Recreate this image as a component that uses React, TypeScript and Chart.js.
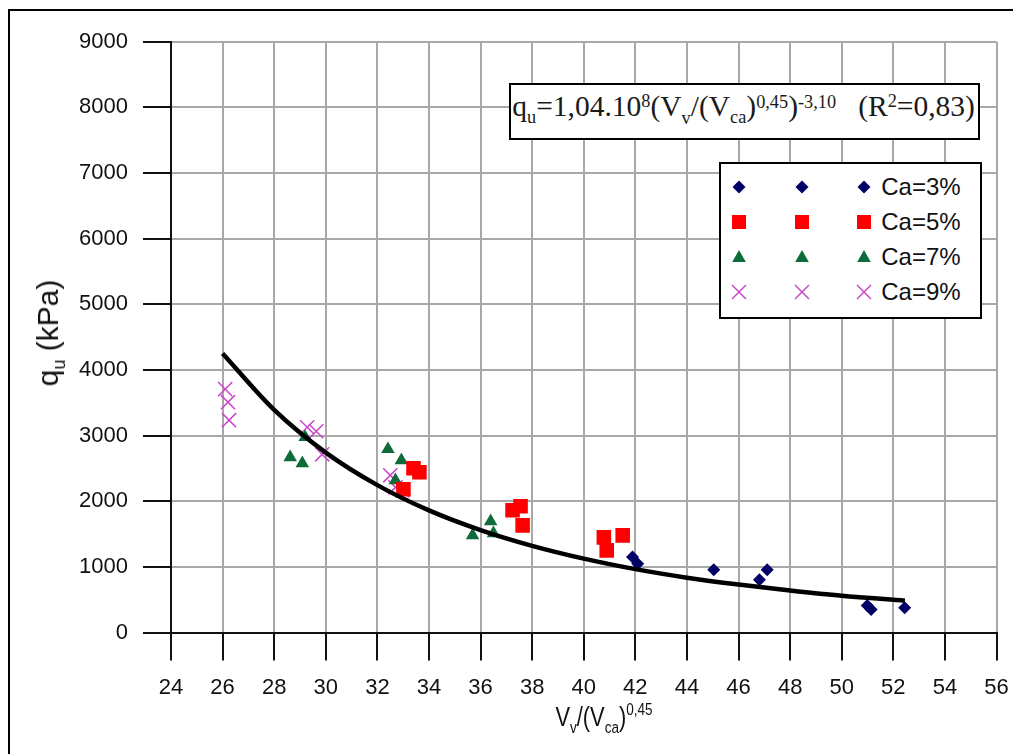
import React, { useEffect, useRef } from "react";
import { Chart, registerables } from "chart.js";

Chart.register(...registerables);

// ---- data ----
const xTickMin = 24;
const xTickMax = 56;
const xTickStep = 2;
const yTickMin = 0;
const yTickMax = 9000;
const yTickStep = 1000;

const ca3X = [41.89, 42.09, 45.04, 46.81, 47.11, 50.99, 51.14, 52.44];
const ca3Y = [1149, 1048, 956, 804, 956, 412, 351, 377];

const ca5X = [33.4, 33.63, 33.01, 37.24, 37.55, 37.63, 40.78, 40.89, 41.51];
const ca5Y = [2502, 2441, 2181, 1861, 1922, 1632, 1449, 1251, 1480];

const ca7X = [28.62, 29.09, 29.2, 32.41, 32.93, 32.7, 35.69, 36.39, 36.5];
const ca7Y = [2670, 2578, 2975, 2792, 2624, 2319, 1480, 1693, 1510];

const ca9X = [26.1, 26.21, 26.25, 29.28, 29.63, 29.86, 32.5, 32.7, 32.97];
const ca9Y = [3707, 3508, 3234, 3127, 3066, 2715, 2395, 2212, 2166];

const trendX = [26.0, 28, 30, 32, 34, 36, 38, 40, 42, 44, 46, 48, 50, 52.45];
const trendY = [4250, 3390, 2740, 2245, 1860, 1560, 1320, 1125, 965, 835, 730, 640, 560, 485];

const seriesLabels = ["Ca=3%", "Ca=5%", "Ca=7%", "Ca=9%"];

const COL3 = "#000066";
const COL5 = "#FF0000";
const COL7 = "#0E6B3A";
const COL9 = "#CC44CC";

const zip = (xs: number[], ys: number[]) => xs.map((x, i) => ({ x, y: ys[i] }));

const Marker = ({ kind }: { kind: number }) => {
  const s = 16;
  const c = s / 2;
  let el: any = null;
  if (kind === 0) el = <polygon points={`${c - 6.5},${c} ${c},${c - 6.5} ${c + 6.5},${c} ${c},${c + 6.5}`} fill={COL3} />;
  if (kind === 1) el = <rect x={c - 7} y={c - 7} width={14} height={14} fill={COL5} />;
  if (kind === 2) el = <polygon points={`${c},${c - 7} ${c + 6.8},${c + 5} ${c - 6.8},${c + 5}`} fill={COL7} />;
  if (kind === 3)
    el = (
      <g stroke={COL9} strokeWidth={1.5}>
        <line x1={c - 7} y1={c - 7} x2={c + 7} y2={c + 7} />
        <line x1={c - 7} y1={c + 7} x2={c + 7} y2={c - 7} />
      </g>
    );
  return (
    <svg width={s} height={s} style={{ display: "block" }}>
      {el}
    </svg>
  );
};

export default function App() {
  const ref = useRef<HTMLCanvasElement | null>(null);

  useEffect(() => {
    const canvas = ref.current;
    if (!canvas) return;
    const tickFont = { family: "'Liberation Sans', Arial, sans-serif", size: 22 };
    const chart = new Chart(canvas, {
      type: "scatter",
      data: {
        datasets: [
          {
            label: seriesLabels[0],
            data: zip(ca3X, ca3Y),
            pointStyle: "rectRot",
            pointRadius: 6.5,
            backgroundColor: COL3,
            borderColor: COL3,
            borderWidth: 0,
            order: 2,
          },
          {
            label: seriesLabels[1],
            data: zip(ca5X, ca5Y),
            pointStyle: "rect",
            pointRadius: 10.3,
            backgroundColor: COL5,
            borderColor: COL5,
            borderWidth: 0,
            order: 2,
          },
          {
            label: seriesLabels[2],
            data: zip(ca7X, ca7Y),
            pointStyle: "triangle",
            pointRadius: 7.8,
            backgroundColor: COL7,
            borderColor: COL7,
            borderWidth: 0,
            order: 2,
          },
          {
            label: seriesLabels[3],
            data: zip(ca9X, ca9Y),
            pointStyle: "crossRot",
            pointRadius: 10,
            backgroundColor: COL9,
            borderColor: COL9,
            borderWidth: 1.5,
            order: 2,
          },
          {
            label: "trend",
            data: zip(trendX, trendY),
            showLine: true,
            pointRadius: 0,
            borderColor: "#000000",
            borderWidth: 4.5,
            cubicInterpolationMode: "monotone",
            fill: false,
            order: 1,
          } as any,
        ],
      },
      options: {
        animation: false,
        responsive: false,
        devicePixelRatio: 1,
        layout: { padding: { left: 0, right: 16.5, top: 33.7, bottom: 0 } },
        plugins: { legend: { display: false }, tooltip: { enabled: false }, title: { display: false } },
        scales: {
          x: {
            type: "linear",
            min: xTickMin,
            max: xTickMax,
            ticks: {
              stepSize: xTickStep,
              font: tickFont,
              color: "#111111",
              padding: 14,
              maxRotation: 0,
              autoSkip: false,
              callback: (v: any) => String(v),
            },
            grid: { color: "#a8a8a8", lineWidth: 2, tickColor: "#111111", tickWidth: 2, tickLength: 28, drawTicks: true },
            border: { color: "#111111", width: 2 },
            afterFit: (s: any) => {
              s.height = 121.5;
              s.paddingLeft = 0;
              s.paddingRight = 0;
            },
          },
          y: {
            type: "linear",
            min: yTickMin,
            max: yTickMax,
            ticks: {
              stepSize: yTickStep,
              font: tickFont,
              color: "#111111",
              padding: 15,
              callback: (v: any) => String(v),
            },
            grid: { color: "#a8a8a8", lineWidth: 2, tickColor: "#111111", tickWidth: 2, tickLength: 28, drawTicks: true },
            border: { color: "#111111", width: 2 },
            afterFit: (s: any) => {
              s.width = 163;
              s.paddingTop = 0;
              s.paddingBottom = 0;
            },
          },
        },
      } as any,
    });
    return () => chart.destroy();
  }, []);

  const serif = "'Liberation Serif', 'Times New Roman', serif";
  const sans = "'Liberation Sans', Arial, sans-serif";
  const sub = (t: string, size = "0.62em", off = "-7px") => (
    <span style={{ fontSize: size, verticalAlign: off, lineHeight: 0 }}>{t}</span>
  );

  return (
    <div style={{ position: "fixed", left: 8, top: 8, width: 1005, height: 746, overflow: "hidden" }}>
      {/* outer frame: top and left edges */}
      <div style={{ position: "absolute", left: 0, top: 1, width: 1005, height: 2, background: "#000" }} />
      <div style={{ position: "absolute", left: 0, top: 1, width: 2, height: 745, background: "#000" }} />
      <canvas ref={ref} width={1005} height={746} style={{ position: "absolute", left: 0, top: 0, width: 1005, height: 746 }} />

      {/* y-axis title */}
      <div
        style={{
          position: "absolute",
          left: 40,
          top: 325,
          transform: "translate(-50%, -50%) rotate(-90deg)",
          whiteSpace: "nowrap",
          fontFamily: sans,
          fontSize: 30,
          color: "#111",
          lineHeight: 1,
        }}
      >
        q{sub("u", "0.6em", "-7px")} (kPa)
      </div>

      {/* x-axis title */}
      <div
        style={{
          position: "absolute",
          left: 596,
          top: 694,
          transform: "translateX(-50%) scaleX(0.78)",
          whiteSpace: "nowrap",
          fontFamily: sans,
          fontSize: 28,
          color: "#111",
          lineHeight: "30px",
        }}
      >
        V{sub("v", "0.62em", "-7px")}/(V{sub("ca", "0.62em", "-7px")}){sub("0,45", "0.62em", "11px")}
      </div>

      {/* equation box */}
      <div
        style={{
          position: "absolute",
          left: 501.3,
          top: 74.7,
          width: 470.7,
          height: 57.3,
          border: "2px solid #000",
          boxSizing: "border-box",
          background: "#fff",
          fontFamily: serif,
          fontSize: 29.5,
          color: "#1a1a1a",
          whiteSpace: "pre",
          lineHeight: "30px",
          paddingLeft: 1,
          paddingTop: 6,
        }}
      >
        q{sub("u", "0.62em", "-7px")}=1,04.10{sub("8", "0.62em", "9px")}(V{sub("v", "0.62em", "-8px")}/(V
        {sub("ca", "0.62em", "-7px")}){sub("0,45", "0.62em", "8px")}){sub("-3,10", "0.62em", "8px")}
        {"   "}(R{sub("2", "0.62em", "9px")}=0,83)
      </div>

      {/* legend */}
      <div
        style={{
          position: "absolute",
          left: 710.7,
          top: 154.3,
          width: 263,
          height: 157,
          border: "2px solid #000",
          boxSizing: "border-box",
          background: "#fff",
        }}
      >
        {seriesLabels.map((lab, i) => (
          <div key={lab} style={{ position: "absolute", top: 22.4 + i * 35.1 - 13, left: 0, height: 26, width: "100%" }}>
            {[0, 1, 2].map((k) => (
              <div key={k} style={{ position: "absolute", left: 18.6 + k * 62.35 - 8, top: 5 }}>
                <Marker kind={i} />
              </div>
            ))}
            <div
              style={{
                position: "absolute",
                left: 160.6,
                top: 0,
                fontFamily: sans,
                fontSize: 24,
                lineHeight: "26px",
                color: "#111",
                whiteSpace: "nowrap",
              }}
            >
              {lab}
            </div>
          </div>
        ))}
      </div>
    </div>
  );
}
